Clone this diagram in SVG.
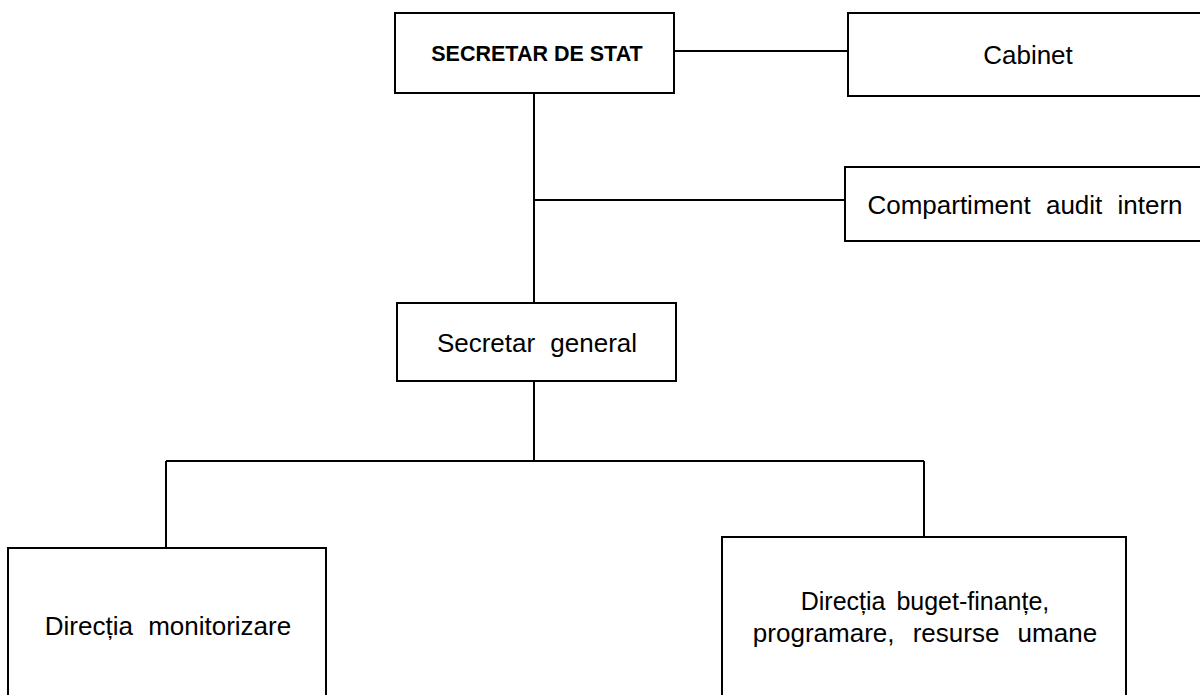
<svg xmlns="http://www.w3.org/2000/svg" width="1200" height="695" viewBox="0 0 1200 695">
<style>
.box{fill:#fff;stroke:#000;stroke-width:2}
.ln{stroke:#000;stroke-width:2;fill:none}
.t{font-family:"Liberation Sans",Arial,sans-serif;font-size:26px;fill:#000;text-anchor:middle;word-spacing:8px}
.b{font-family:"Liberation Sans",Arial,sans-serif;font-size:21.5px;font-weight:bold;fill:#000;text-anchor:middle}
</style>
<rect width="1200" height="695" fill="#fff"/>
<g id="connectors" class="ln">
<line x1="674" y1="51" x2="848" y2="51"/>
<line x1="534" y1="93" x2="534" y2="303"/>
<line x1="534" y1="200" x2="845" y2="200"/>
<line x1="534" y1="381" x2="534" y2="461"/>
<line x1="166" y1="461" x2="924" y2="461"/>
<line x1="166" y1="461" x2="166" y2="548"/>
<line x1="924" y1="461" x2="924" y2="537"/>
</g>
<g id="secretar-de-stat">
<rect class="box" x="395" y="13" width="279" height="80"/>
<text class="b" x="537" y="61">SECRETAR DE STAT</text>
</g>
<g id="cabinet">
<rect class="box" x="848" y="13" width="370" height="83"/>
<text class="t" x="1028" y="64">Cabinet</text>
</g>
<g id="audit">
<rect class="box" x="845" y="167" width="370" height="74"/>
<text class="t" x="1025" y="214">Compartiment audit intern</text>
</g>
<g id="secretar-general">
<rect class="box" x="397" y="303" width="279" height="78"/>
<text class="t" x="537" y="352">Secretar general</text>
</g>
<g id="directia-monitorizare">
<rect class="box" x="8" y="548" width="318" height="170"/>
<text class="t" x="168" y="635">Direcția monitorizare</text>
</g>
<g id="directia-buget">
<rect class="box" x="722" y="537" width="404" height="180"/>
<text class="t" x="925" y="610" style="font-size:25px;word-spacing:4px">Direcția buget-finanțe,</text>
<text class="t" x="925" y="642" style="word-spacing:11px">programare, resurse umane</text>
</g>
</svg>
